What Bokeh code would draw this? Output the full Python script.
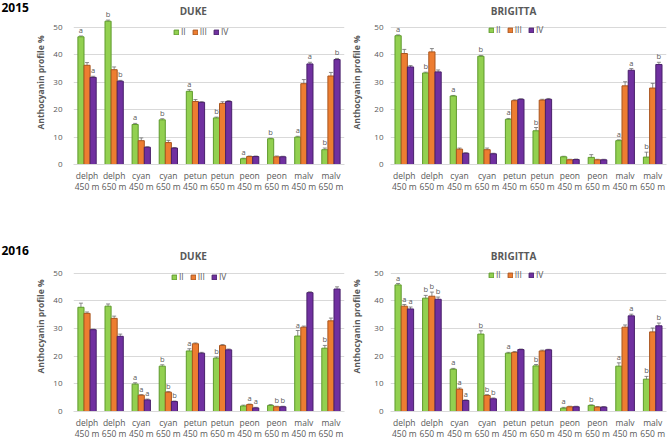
from bokeh.plotting import figure
from bokeh.models import (ColumnDataSource, Range1d, FactorRange, Whisker, Label,
                          Legend, LegendItem, FixedTicker)
from bokeh.transform import dodge
from bokeh.core.properties import value
from bokeh.layouts import column, row
from bokeh.embed import file_html
from bokeh.resources import INLINE

# ---------------- data ----------------
pigments = ["delph", "delph", "cyan", "cyan", "petun", "petun", "peon", "peon", "malv", "malv"]
sites = ["450 m", "650 m"] * 5
series = ["II", "III", "IV"]
y_ticks = [0, 10, 20, 30, 40, 50]

# 2015 DUKE
d15_II = [46.6, 52.3, 14.6, 16.3, 26.7, 17.0, 2.1, 9.4, 10.0, 5.4]
d15_III = [36.2, 34.6, 8.7, 8.0, 23.0, 22.3, 2.9, 2.8, 29.5, 32.3]
d15_IV = [31.8, 30.4, 6.3, 6.0, 22.7, 23.0, 2.9, 2.8, 36.7, 38.3]
d15_err_II = [0.3, 0.4, 0.4, 0.4, 0.6, 0.3, 0.2, 0.2, 0.3, 0.6]
d15_err_III = [1.0, 1.0, 1.0, 0.8, 0.7, 0.6, 0.2, 0.3, 1.5, 1.3]
d15_err_IV = [0.4, 0.3, 0.2, 0.2, 0.2, 0.3, 0.2, 0.2, 0.6, 0.4]
d15_let_II = ["a", "b", "a", "b", "a", "b", "a", "b", "a", "b"]
d15_let_III = [""] * 10
d15_let_IV = ["a", "b", "", "", "", "", "", "", "a", "b"]

# 2015 BRIGITTA
b15_II = [47.0, 33.4, 25.0, 39.5, 16.5, 12.3, 2.8, 2.6, 8.7, 2.7]
b15_III = [40.5, 41.1, 5.6, 5.4, 23.3, 23.5, 1.7, 1.7, 28.7, 27.9]
b15_IV = [35.6, 33.8, 4.1, 3.9, 23.8, 23.8, 1.8, 1.7, 34.4, 36.5]
b15_err_II = [0.3, 0.3, 0.2, 0.3, 0.3, 1.2, 0.2, 1.0, 0.3, 1.8]
b15_err_III = [1.5, 1.2, 0.4, 0.6, 0.3, 0.3, 0.2, 0.2, 1.5, 1.7]
b15_err_IV = [0.5, 0.7, 0.2, 0.2, 0.2, 0.3, 0.2, 0.2, 0.6, 0.8]
b15_let_II = ["a", "b", "a", "b", "a", "b", "", "", "a", "b"]
b15_let_III = [""] * 10
b15_let_IV = ["", "", "", "", "", "", "", "", "a", "b"]

# 2016 DUKE
d16_II = [37.7, 38.1, 9.9, 16.4, 21.9, 19.3, 2.0, 2.2, 27.3, 22.9]
d16_III = [35.5, 33.7, 5.9, 7.0, 24.5, 23.9, 2.5, 1.7, 30.5, 32.8]
d16_IV = [29.6, 27.2, 4.2, 3.6, 21.1, 22.3, 1.3, 1.7, 43.0, 44.3]
d16_err_II = [1.5, 0.8, 0.5, 0.5, 0.8, 0.4, 0.3, 0.3, 2.0, 1.0]
d16_err_III = [0.5, 0.8, 0.2, 0.2, 0.3, 0.3, 0.2, 0.2, 0.4, 1.0]
d16_err_IV = [0.2, 0.8, 0.3, 0.2, 0.3, 0.3, 0.2, 0.2, 0.3, 0.8]
d16_let_II = ["", "", "a", "b", "a", "b", "", "", "a", "b"]
d16_let_III = ["", "", "a", "b", "", "", "a", "b", "", ""]
d16_let_IV = ["", "", "a", "b", "", "", "a", "b", "", ""]

# 2016 BRIGITTA
b16_II = [45.8, 41.0, 15.3, 28.0, 21.1, 16.5, 1.2, 2.2, 16.4, 11.7]
b16_III = [38.1, 41.7, 8.1, 5.8, 21.4, 21.9, 1.7, 1.6, 30.5, 28.8]
b16_IV = [37.1, 40.6, 4.0, 4.6, 22.4, 22.3, 1.7, 1.6, 34.6, 31.0]
b16_err_II = [0.5, 1.0, 0.3, 1.2, 0.3, 0.5, 0.3, 0.2, 1.2, 1.0]
b16_err_III = [0.6, 1.5, 0.4, 0.3, 0.3, 0.3, 0.2, 0.2, 0.8, 1.4]
b16_err_IV = [0.7, 0.8, 0.2, 0.3, 0.2, 0.2, 0.2, 0.2, 0.6, 1.0]
b16_let_II = ["a", "b", "a", "b", "a", "b", "a", "b", "a", "b"]
b16_let_III = ["a", "b", "a", "b", "", "", "", "", "", ""]
b16_let_IV = ["a", "b", "a", "b", "", "", "", "", "a", "b"]

# ---------------- style ----------------
FONT = "Open Sans"
GRAY = "#595959"
FILL = {"II": "#92D050", "III": "#ED7D31", "IV": "#7030A0"}
EDGE = {"II": "#5E9A2C", "III": "#A9561F", "IV": "#48206A"}
OFFS = {"II": -0.225, "III": 0.0, "IV": 0.225}

cats = [f"{a}\n{b}" for a, b in zip(pigments, sites)]


def panel(title, vals, errs, lets, width, height, bl, br, bt, bb, yend,
          lab_standoff, ylab_standoff, title_x, title_y, leg_loc):
    p = figure(x_range=FactorRange(*cats, range_padding=0), y_range=Range1d(0, yend),
               width=width, height=height, output_backend="svg", toolbar_location=None,
               min_border_left=bl, min_border_right=br, min_border_top=bt, min_border_bottom=bb)
    p.outline_line_color = None
    p.background_fill_color = "white"
    p.border_fill_color = "white"
    p.xgrid.grid_line_color = None
    p.ygrid.grid_line_color = "#D9D9D9"
    p.ygrid.grid_line_width = 1
    p.yaxis.ticker = FixedTicker(ticks=y_ticks)
    p.yaxis.axis_line_color = None
    p.yaxis.major_tick_line_color = None
    p.yaxis.minor_tick_line_color = None
    p.yaxis.major_tick_out = 0
    p.yaxis.major_tick_in = 0
    p.yaxis.major_label_text_font = FONT
    p.yaxis.major_label_text_font_size = "8px"
    p.yaxis.major_label_text_color = GRAY
    p.yaxis.major_label_standoff = lab_standoff
    p.yaxis.axis_label = "Anthocyanin profile %"
    p.yaxis.axis_label_text_font = FONT
    p.yaxis.axis_label_text_font_size = "8.5px"
    p.yaxis.axis_label_text_font_style = "bold"
    p.yaxis.axis_label_text_color = GRAY
    p.yaxis.axis_label_standoff = ylab_standoff
    p.xaxis.axis_line_color = "#D9D9D9"
    p.xaxis.major_tick_line_color = None
    p.xaxis.minor_tick_line_color = None
    p.xaxis.major_tick_out = 0
    p.xaxis.major_tick_in = 0
    p.xaxis.major_label_text_font = FONT
    p.xaxis.major_label_text_font_size = "8.5px"
    p.xaxis.major_label_text_line_height = 1.0
    p.xaxis.major_label_text_color = GRAY
    p.xaxis.major_label_standoff = 5

    data = {"cat": cats}
    for s in series:
        data[s] = vals[s]
        data[s + "_up"] = [v + e for v, e in zip(vals[s], errs[s])]
        data[s + "_lo"] = [v - e for v, e in zip(vals[s], errs[s])]
        data[s + "_let"] = lets[s]
    src = ColumnDataSource(data)

    items = []
    for s in series:
        r = p.vbar(x=dodge("cat", OFFS[s], range=p.x_range), top=s, width=0.225, source=src,
                   fill_color=FILL[s], line_color=EDGE[s], line_width=1)
        items.append(LegendItem(label=s, renderers=[r]))
        w = Whisker(source=src, base=dodge("cat", OFFS[s], range=p.x_range),
                    upper=s + "_up", lower=s + "_lo", line_color="#6E6E6E", line_width=0.8)
        for head in (w.upper_head, w.lower_head):
            head.size = 4
            head.line_color = "#6E6E6E"
            head.line_width = 0.8
        p.add_layout(w)
        p.text(x=dodge("cat", OFFS[s], range=p.x_range), y=s + "_up", text=s + "_let", source=src,
               text_font=value(FONT), text_font_size="7.5px", text_color=GRAY,
               text_align="center", text_baseline="bottom", y_offset=-1)

    leg = Legend(items=items, orientation="horizontal", location=leg_loc,
                 border_line_alpha=0, background_fill_alpha=0,
                 label_text_font=FONT, label_text_font_size="8.5px", label_text_color=GRAY,
                 glyph_width=6, glyph_height=6, label_standoff=2, spacing=6,
                 padding=0, margin=0, label_height=10, label_width=0)
    p.add_layout(leg)

    p.add_layout(Label(x=title_x, y=title_y, text=title, text_font=FONT, text_font_size="10px",
                       text_font_style="bold", text_color=GRAY, text_align="center",
                       text_baseline="middle"))
    return p


def year_panel(text, width, height, center_px):
    f = figure(width=width, height=height, x_range=Range1d(0, width), y_range=Range1d(0, height),
               output_backend="svg", toolbar_location=None, min_border=0,
               x_axis_location=None, y_axis_location=None)
    f.outline_line_color = None
    f.grid.grid_line_color = None
    f.add_layout(Label(x=1, y=height - center_px, text=text, text_font=FONT, text_font_size="12px",
                       text_font_style="bold", text_color="black", text_align="left",
                       text_baseline="middle"))
    return f


y1 = year_panel("2015", 32, 240, 10)
p1 = panel("DUKE",
           {"II": d15_II, "III": d15_III, "IV": d15_IV},
           {"II": d15_err_II, "III": d15_err_III, "IV": d15_err_IV},
           {"II": d15_let_II, "III": d15_let_III, "IV": d15_let_IV},
           313, 240, 36, 1, 0, 76, 59.85, 11, 4, 4.42, 56.2, (100, 127))
p2 = panel("BRIGITTA",
           {"II": b15_II, "III": b15_III, "IV": b15_IV},
           {"II": b15_err_II, "III": b15_err_III, "IV": b15_err_IV},
           {"II": b15_let_II, "III": b15_let_III, "IV": b15_let_IV},
           324, 240, 45, 3, 0, 76, 59.85, 7, 9, 4.46, 56.1, (98, 129))
y2 = year_panel("2016", 32, 201, 11)
p3 = panel("DUKE",
           {"II": d16_II, "III": d16_III, "IV": d16_IV},
           {"II": d16_err_II, "III": d16_err_III, "IV": d16_err_IV},
           {"II": d16_let_II, "III": d16_let_III, "IV": d16_let_IV},
           313, 201, 36, 1, 1, 29, 61.5, 11, 4, 4.42, 56.2, (98, 129))
p4 = panel("BRIGITTA",
           {"II": b16_II, "III": b16_III, "IV": b16_IV},
           {"II": b16_err_II, "III": b16_err_III, "IV": b16_err_IV},
           {"II": b16_let_II, "III": b16_let_III, "IV": b16_let_IV},
           324, 201, 45, 3, 1, 29, 61.5, 7, 9, 4.46, 56.2, (98, 131))

layout = column(row(y1, p1, p2), row(y2, p3, p4))
open("out.html", "w").write(file_html(layout, INLINE))
